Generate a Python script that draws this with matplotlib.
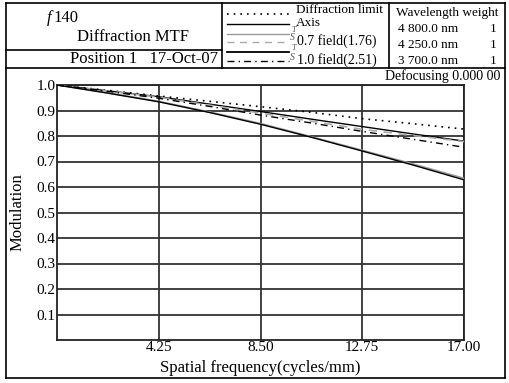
import matplotlib.pyplot as plt
from matplotlib.lines import Line2D

plt.rcParams['font.family'] = ['Liberation Serif', 'DejaVu Serif']

# spatial frequency (cycles/mm) and MTF values
freq = [0, 2.125, 4.25, 6.375, 8.5, 10.625, 12.75, 14.875, 17]
diffraction = [1.0, 0.979, 0.957, 0.936, 0.915, 0.893, 0.868, 0.848, 0.827]
axis_mtf = [1.0, 0.977, 0.954, 0.925, 0.896, 0.866, 0.837, 0.808, 0.780]
field07_t = [1.0, 0.969, 0.936, 0.894, 0.849, 0.797, 0.744, 0.690, 0.634]
field07_s = [1.0, 0.977, 0.952, 0.921, 0.890, 0.858, 0.826, 0.802, 0.778]
field10_t = [1.0, 0.968, 0.934, 0.892, 0.846, 0.795, 0.741, 0.686, 0.628]
field10_s = [1.0, 0.975, 0.948, 0.916, 0.882, 0.851, 0.818, 0.787, 0.756]

xticks = [4.25, 8.5, 12.75, 17.0]
xtick_labels = ['4.25', '8.50', '12.75', '17.00']
yticks = [0.1, 0.2, 0.3, 0.4, 0.5, 0.6, 0.7, 0.8, 0.9, 1.0]

wavelengths = ['4 800.0 nm', '4 250.0 nm', '3 700.0 nm']
weights = ['1', '1', '1']

W, H = 509, 383
fig = plt.figure(figsize=(W / 100, H / 100), dpi=100)

# main plot
ax = fig.add_axes([57 / W, 1 - 340 / H, (464 - 57) / W, (340 - 85) / H])
ax.set_xlim(0, 17)
ax.set_ylim(0, 1.0)
ax.set_xticks(xticks)
ax.set_xticklabels(xtick_labels)
ax.set_yticks(yticks)
ax.set_yticklabels([f'{v:.1f}' for v in yticks])
ax.tick_params(length=0, labelsize=11, pad=1)
ax.grid(True, color='#333333', linewidth=1.3, zorder=0)
for sp in ax.spines.values():
    sp.set_linewidth(1.3)
    sp.set_color('#222222')

ax.plot(freq, diffraction, color='black', linestyle=(0, (1, 3)), linewidth=1.2, zorder=3)
ax.plot(freq, axis_mtf, color='black', linewidth=1.0, zorder=3)
ax.plot(freq, field07_t, color='#999999', linewidth=1.2, zorder=3)
ax.plot(freq, field07_s, color='#aaaaaa', linestyle=(0, (5, 4)), linewidth=1.2, zorder=3)
ax.plot(freq, field10_t, color='black', linewidth=1.0, zorder=4)
ax.plot(freq, field10_s, color='black', linestyle=(0, (5, 3, 1, 3)), linewidth=1.0, zorder=3)

ax.set_ylabel('Modulation', fontsize=12, labelpad=8)
ax.set_xlabel('Spatial frequency(cycles/mm)', fontsize=12, labelpad=4)

# overlay in pixel coordinates for the header frame
ov = fig.add_axes([0, 0, 1, 1], zorder=-1)
ov.set_xlim(0, W)
ov.set_ylim(H, 0)
ov.axis('off')

def seg(x0, y0, x1, y1, **kw):
    kw.setdefault('color', 'black')
    kw.setdefault('linewidth', 1.2)
    ov.add_line(Line2D([x0, x1], [y0, y1], **kw))

# outer frame and header boxes
seg(6, 3, 505, 3)
seg(6, 378, 505, 378)
seg(6, 3, 6, 378)
seg(505, 3, 505, 378)
seg(6, 68, 505, 68)
seg(222, 3, 222, 68)
seg(389, 3, 389, 68)
seg(6, 50, 222, 50)

# left box text
ov.text(47, 18, 'f', fontsize=12, fontstyle='italic', va='center')
ov.text(53, 18, '140', fontsize=12, va='center')
ov.text(133, 37, 'Diffraction MTF', fontsize=12, ha='center', va='center')
ov.text(218, 59, 'Position 1   17-Oct-07', fontsize=12, ha='right', va='center')

# legend samples
lx0, lx1 = 227, 289
seg(lx0, 14, lx1, 14, linestyle=(0, (1, 3)), linewidth=1.2)
seg(lx0, 24, lx1, 24, linewidth=1.0)
seg(lx0, 34, lx1, 34, color='#999999', linewidth=1.0)
seg(lx0, 42, lx1, 42, color='#aaaaaa', linestyle=(0, (5, 4)), linewidth=1.0)
seg(lx0, 52, lx1, 52, linewidth=1.3)
seg(lx0, 61, lx1, 61, linestyle=(0, (5, 3, 1, 3)), linewidth=1.0)

ov.text(296, 10, 'Diffraction limit', fontsize=9.5, va='center')
ov.text(296, 23, 'Axis', fontsize=9.5, va='center')
ov.text(291, 30, 'T', fontsize=6, fontstyle='italic', va='center', color='#555555')
ov.text(290, 38, 'S', fontsize=7, fontstyle='italic', va='center', color='#555555')
ov.text(297, 41, '0.7 field(1.76)', fontsize=10, va='center')
ov.text(291, 48, 'T', fontsize=6, fontstyle='italic', va='center', color='#555555')
ov.text(290, 57, 'S', fontsize=7, fontstyle='italic', va='center', color='#555555')
ov.text(297, 60, '1.0 field(2.51)', fontsize=10, va='center')

# wavelength box
ov.text(396, 13, 'Wavelength weight', fontsize=9.5, va='center')
for i, (wl, wt) in enumerate(zip(wavelengths, weights)):
    y = 29 + i * 16
    ov.text(398, y, wl, fontsize=9.5, va='center')
    ov.text(490, y, wt, fontsize=9.5, va='center')

ov.text(500, 76, 'Defocusing 0.000 00', fontsize=10, ha='right', va='center')

fig.savefig('out.png', dpi=100)
